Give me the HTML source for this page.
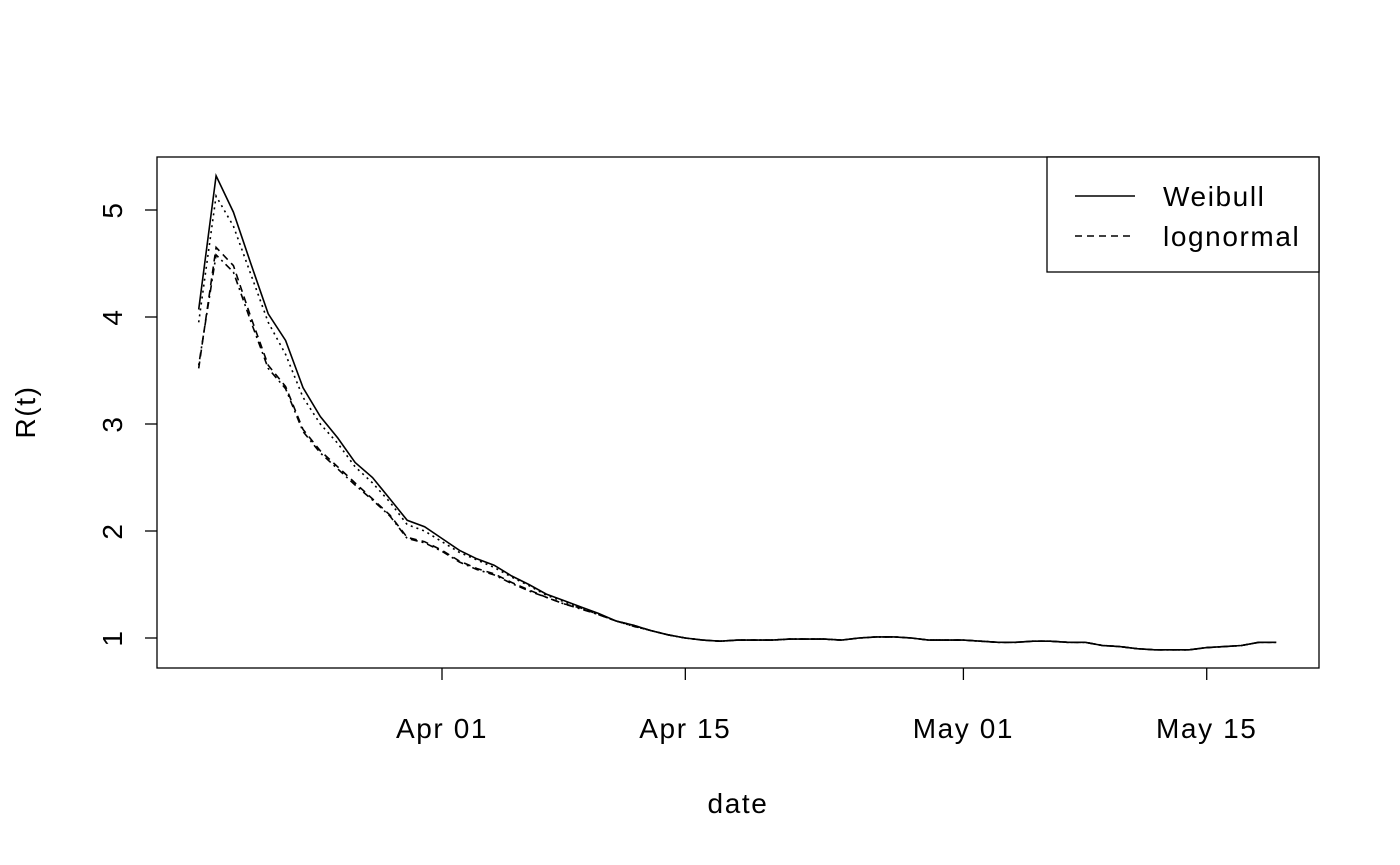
<!DOCTYPE html>
<html><head><meta charset="utf-8"><style>
html,body{margin:0;padding:0;background:#fff;}
svg{display:block;font-family:"Liberation Sans",Arial,sans-serif;}
svg text{letter-spacing:1.6px;}
</style></head><body>
<svg id="chart" width="1400" height="865">
<rect x="157" y="157" width="1162" height="511" fill="none" stroke="#000" stroke-width="1.3"/>
<g id="axes"></g>
<g id="series"></g>
<text x="738" y="813" font-size="28" text-anchor="middle">date</text>
<text x="0" y="0" font-size="28" text-anchor="middle" transform="translate(35,412) rotate(-90)">R(t)</text>
<g>
<rect x="1047" y="157" width="272" height="115" fill="#fff" stroke="#000" stroke-width="1.3"/>
<line x1="1075" y1="196" x2="1135" y2="196" stroke="#000" stroke-width="1.5"/>
<text x="1163" y="206" font-size="28">Weibull</text>
<line x1="1075" y1="236" x2="1135" y2="236" stroke="#000" stroke-width="1.5" stroke-dasharray="7,5"/>
<text x="1163" y="246" font-size="28">lognormal</text>
</g>
</svg>
<script>
const startDay = -14; // Mar 18 relative to Apr 01
const lateValues = [1.00,0.98,0.97,0.98,0.98,0.98,0.99,0.99,0.99,0.98,1.00,1.01,1.01,1.00,0.98,0.98,0.98,0.97,0.96,0.96,0.97,0.97,0.96,0.96,0.93,0.92,0.90,0.89,0.89,0.89,0.91,0.92,0.93,0.96,0.96];
const weibullEarly = [4.07,5.32,4.98,4.5,4.03,3.78,3.34,3.07,2.87,2.64,2.50,2.30,2.10,2.04,1.93,1.82,1.74,1.68,1.58,1.50,1.41,1.35,1.29,1.23,1.16,1.12,1.07,1.03];
const weibullCiEarly = [3.95,5.13,4.85,4.4,3.95,3.65,3.25,3.0,2.82,2.6,2.45,2.27,2.06,2.0,1.9,1.80,1.73,1.66,1.57,1.49,1.40,1.34,1.28,1.22,1.16,1.11,1.07,1.03];
const lognormalEarly = [3.52,4.65,4.48,4.0,3.55,3.35,2.95,2.75,2.6,2.45,2.3,2.15,1.94,1.9,1.82,1.72,1.65,1.6,1.52,1.45,1.38,1.32,1.28,1.22,1.16,1.12,1.07,1.03];
const lognormalCiEarly = [3.55,4.58,4.42,3.96,3.52,3.33,2.93,2.73,2.58,2.43,2.29,2.14,1.93,1.89,1.81,1.71,1.64,1.59,1.51,1.44,1.38,1.32,1.27,1.22,1.16,1.11,1.07,1.03];
const yTicks = [1,2,3,4,5];
const xTickDays = [0,14,30,44];
const xTickLabels = ["Apr 01","Apr 15","May 01","May 15"];

const NS="http://www.w3.org/2000/svg";
function xs(d){return 442 + d*17.38;}
function ys(v){return 638 - (v-1)*107;}
const axes=document.getElementById('axes');
const ser=document.getElementById('series');
function mk(tag,attrs,parent){const e=document.createElementNS(NS,tag);for(const k in attrs)e.setAttribute(k,attrs[k]);parent.appendChild(e);return e;}

yTicks.forEach(v=>{
  const y=ys(v);
  const t=mk('line',{x1:157,x2:145,y1:y,y2:y,stroke:'#000','stroke-width':1.3},axes);
  
  
  const l=mk('text',{'font-size':28,'text-anchor':'middle',transform:`translate(112,${y}) rotate(-90)`,dy:10},axes);
  l.textContent=v;
  
  
});
xTickDays.forEach((d,i)=>{
  const x=xs(d);
  const t=mk('line',{x1:x,x2:x,y1:668,y2:680,stroke:'#000','stroke-width':1.3},axes);
  
  
  const l=mk('text',{x:x,y:738,'font-size':28,'text-anchor':'middle'},axes);
  l.textContent=xTickLabels[i];
  
  
});
const seriesDefs=[
  {name:'weibull-line',vals:weibullEarly.concat(lateValues),dash:null},
  {name:'weibull-ci-line',vals:weibullCiEarly.concat(lateValues),dash:'2,4'},
  {name:'lognormal-line',vals:lognormalEarly.concat(lateValues),dash:'7,5'},
  {name:'lognormal-ci-line',vals:lognormalCiEarly.concat(lateValues),dash:'2,4,7,4'}
];
seriesDefs.forEach(s=>{
  const pts=s.vals.map((v,i)=>xs(startDay+i).toFixed(1)+','+ys(v).toFixed(1)).join(' ');
  const p=mk('polyline',{points:pts,fill:'none',stroke:'#000','stroke-width':1.6},ser);
  if(s.dash)p.setAttribute('stroke-dasharray',s.dash);
  
  
});
</script>
</body></html>
